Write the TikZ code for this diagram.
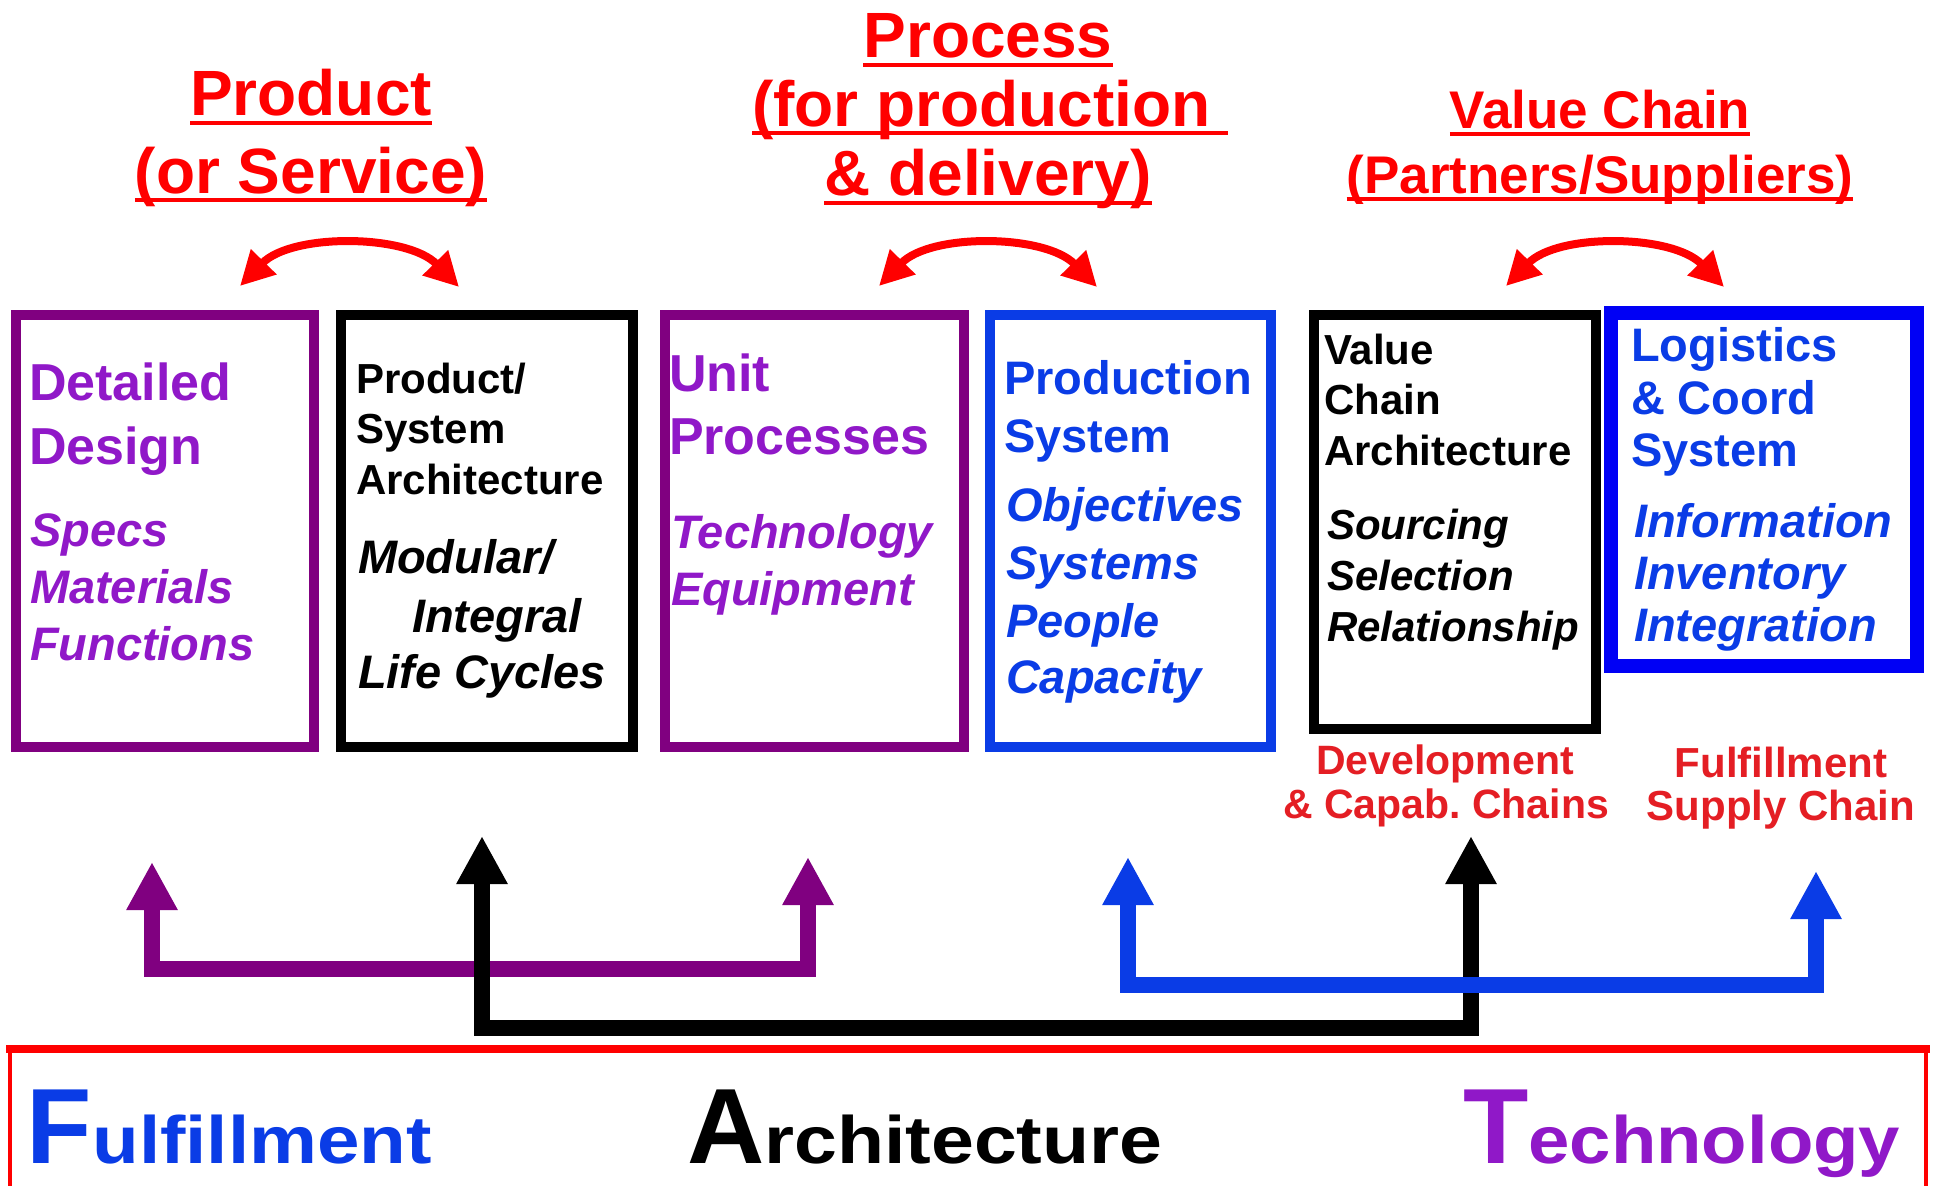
\documentclass[tikz,border=0pt]{standalone}
\usepackage{fontspec}
\setmainfont{Liberation Sans}
\usepackage{graphicx}
\usetikzlibrary{arrows.meta}
\definecolor{tred}{RGB}{255,0,0}
\definecolor{lred}{RGB}{228,30,36}
\definecolor{ptext}{RGB}{144,24,200}
\definecolor{pbox}{RGB}{128,0,128}
\definecolor{btext}{RGB}{10,60,230}
\definecolor{bbox}{RGB}{0,0,245}
\newcommand{\fsz}[1]{\fontsize{#1}{#1}\selectfont}
\frenchspacing
\begin{document}
\begin{tikzpicture}[x=1pt,y=-1pt,
  txt/.style={inner sep=0pt, outer sep=0pt, anchor=base west},
  ctxt/.style={inner sep=0pt, outer sep=0pt, anchor=base},
  bb/.style={txt, font=\fsz{#1}\bfseries},
  bi/.style={txt, font=\fsz{#1}\bfseries\itshape},
  ttl/.style={ctxt, font=\fsz{#1}\bfseries, text=tred},
  lbl/.style={ctxt, font=\fsz{#1}\bfseries, text=lred},
  box/.style={draw, line width=10pt, inner sep=0pt, minimum height=432pt},
  uline/.style={draw=tred, line width=3.5pt},
  redarr/.style={draw=tred, line width=8pt, {Triangle[length=34pt,width=34pt]}-{Triangle[length=34pt,width=34pt]}},
  barr/.style={line width=16pt, {Triangle[length=48pt,width=48pt]}-{Triangle[length=48pt,width=48pt]}},
  big/.style={txt, font=\bfseries}
]
\useasboundingbox (0,0) rectangle (1933,1186);

% ---------- titles ----------
\node[ttl=64] (pr1) at (311,115) {Product};
\node[ttl=64] (pr2) at (311,193) {(or Service)};
\draw[uline] ([yshift=-8pt]pr1.base west) -- ([yshift=-8pt]pr1.base east);
\draw[uline] ([yshift=-7pt]pr2.base west) -- ([yshift=-7pt]pr2.base east);

\node[ttl=64] (ps1) at (988,57) {Process};
\node[ttl=64, anchor=base west] (ps2) at (752,126) {(for production\kern0.278em};
\node[ttl=64] (ps3) at (988,195) {\& delivery)};
\draw[uline] ([yshift=-8pt]ps1.base west) -- ([yshift=-8pt]ps1.base east);
\draw[uline] ([yshift=-7pt]ps2.base west) -- ([yshift=-7pt]ps2.base east);
\draw[uline] ([yshift=-8pt]ps3.base west) -- ([yshift=-8pt]ps3.base east);

\node[ttl=53] (vc1) at (1600,128) {Value Chain};
\node[ttl=53] (vc2) at (1600,193) {(Partners/Suppliers)};
\draw[uline] ([yshift=-6pt]vc1.base west) -- ([yshift=-6pt]vc1.base east);
\draw[uline] ([yshift=-6pt]vc2.base west) -- ([yshift=-6pt]vc2.base east);

% ---------- curved double arrows ----------
\coordinate (ca1) at (240,286); \coordinate (cb1) at (459,287);
\coordinate (ca2) at (879,286); \coordinate (cb2) at (1097,287);
\coordinate (ca3) at (1506,286); \coordinate (cb3) at (1724,287);
\draw[redarr] (ca1) .. controls +(52,-53) and +(-52,-53) .. (cb1);
\draw[redarr] (ca2) .. controls +(52,-53) and +(-52,-53) .. (cb2);
\draw[redarr] (ca3) .. controls +(52,-53) and +(-52,-53) .. (cb3);

% ---------- boxes ----------
\node[box, draw=pbox, minimum width=298pt] (b1) at (165,531) {};
\node[box, draw=black, minimum width=292pt] (b2) at (487,531) {};
\node[box, draw=pbox, minimum width=299pt] (b3) at (814.5,531) {};
\node[box, draw=btext, minimum width=281pt] (b4) at (1130.5,531) {};
\node[box, draw=black, minimum width=282pt, minimum height=414pt] (b5) at (1455,522) {};
\node[box, draw=bbox, line width=14pt, minimum width=306pt, minimum height=353pt] (b6) at (1764,489.5) {};

% box 1
\node[bb=52, text=ptext] (t1a) at (29,400) {Detailed};
\node[bb=52, text=ptext] (t1b) at (29,464) {Design};
\node[bi=47, text=ptext] (t1c) at (30,546) {Specs};
\node[bi=47, text=ptext] (t1d) at (30,603) {Materials};
\node[bi=47, text=ptext] (t1e) at (30,660) {Functions};
% box 2
\node[bb=42] (t2a) at (356,393) {Product/};
\node[bb=42] (t2b) at (356,443) {System};
\node[bb=42] (t2c) at (356,494) {Architecture};
\node[bi=47] (t2d) at (358,573) {Modular/};
\node[bi=47] (t2e) at (412,632) {Integral};
\node[bi=47] (t2f) at (358,688) {Life Cycles};
% box 3
\node[bb=52, text=ptext] (t3a) at (669,391) {Unit};
\node[bb=52, text=ptext] (t3b) at (669,454) {Processes};
\node[bi=47, text=ptext] (t3c) at (671,548) {Technology};
\node[bi=47, text=ptext] (t3d) at (671,605) {Equipment};
% box 4
\node[bb=47, text=btext] (t4a) at (1004,394) {Production};
\node[bb=47, text=btext] (t4b) at (1004,452) {System};
\node[bi=47, text=btext] (t4c) at (1006,521) {Objectives};
\node[bi=47, text=btext] (t4d) at (1006,579) {Systems};
\node[bi=47, text=btext] (t4e) at (1006,637) {People};
\node[bi=47, text=btext] (t4f) at (1006,693) {Capacity};
% box 5
\node[bb=42] (t5a) at (1324,364) {Value};
\node[bb=42] (t5b) at (1324,414) {Chain};
\node[bb=42] (t5c) at (1324,465) {Architecture};
\node[bi=42] (t5d) at (1327,539) {Sourcing};
\node[bi=42] (t5e) at (1327,590) {Selection};
\node[bi=42] (t5f) at (1327,641) {Relationship};
% box 6
\node[bb=47, text=btext] (t6a) at (1631,361) {Logistics};
\node[bb=47, text=btext] (t6b) at (1631,414) {\& Coord};
\node[bb=47, text=btext] (t6c) at (1631,466) {System};
\node[bi=47, text=btext] (t6d) at (1634,537) {Information};
\node[bi=47, text=btext] (t6e) at (1634,589) {Inventory};
\node[bi=47, text=btext] (t6f) at (1634,641) {Integration};

% red labels
\node[lbl=41] (l1) at (1445,774) {Development};
\node[lbl=41] (l2) at (1446,818) {\& Capab. Chains};
\node[lbl=42] (l3) at (1781,777) {Fulfillment};
\node[lbl=42] (l4) at (1781,820) {Supply Chain};

% ---------- bottom arrows ----------
\coordinate (pt1) at (152,862); \coordinate (pc1) at (152,969);
\coordinate (pc2) at (808,969); \coordinate (pt2) at (808,857);
\coordinate (kt1) at (482,836); \coordinate (kc1) at (482,1028);
\coordinate (kc2) at (1471,1028); \coordinate (kt2) at (1471,836);
\coordinate (ut1) at (1128,857); \coordinate (uc1) at (1128,985);
\coordinate (uc2) at (1816,985); \coordinate (ut2) at (1816,871);
\draw[barr, draw=pbox] (pt1) -- (pc1) -- (pc2) -- (pt2);
\draw[barr, draw=black] (kt1) -- (kc1) -- (kc2) -- (kt2);
\draw[barr, draw=btext] (ut1) -- (uc1) -- (uc2) -- (ut2);

% ---------- bottom frame ----------
\coordinate (fl) at (10,1049); \coordinate (fr) at (1926,1049);
\draw[tred, line width=4pt] (10,1190) -- (fl) -- (fr) -- (1926,1190);
\draw[tred, line width=8pt] (6,1049) -- (1930,1049);

\node[big, text=btext] (wF) at (27,1163) {\fsz{107}F\scalebox{1.14}[1]{\fsz{67}ulfillment}};
\node[big, text=black] (wA) at (687,1163) {\fsz{107}A\scalebox{1.15}[1]{\fsz{67}rchitecture}};
\node[big, text=ptext] (wT) at (1463,1163) {\fsz{107}T\scalebox{1.11}[1]{\fsz{67}echnology}};
\end{tikzpicture}
\end{document}
